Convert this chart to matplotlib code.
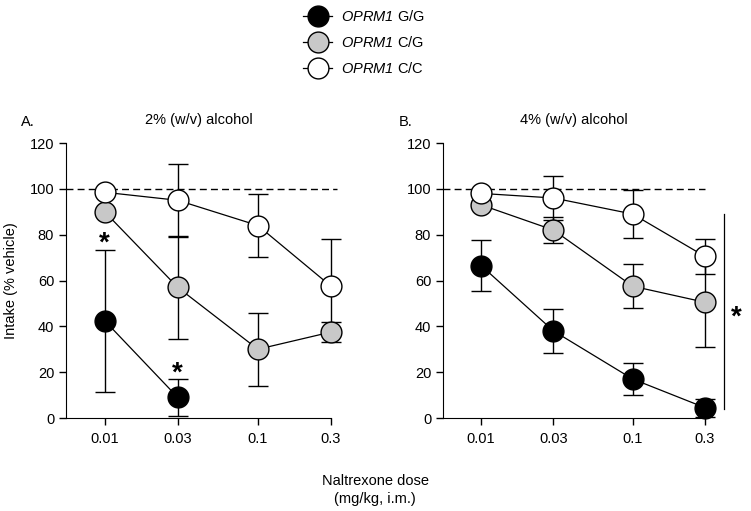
import matplotlib
matplotlib.use("Agg")
import matplotlib.pyplot as plt
from matplotlib.lines import Line2D
import numpy as np

plt.rcParams['font.family'] = ['Liberation Sans', 'DejaVu Sans']
plt.rcParams['mathtext.fontset'] = 'custom'
plt.rcParams['mathtext.rm'] = 'Liberation Sans:italic'
plt.rcParams['mathtext.it'] = 'Liberation Sans:italic'

doses = [0.01, 0.03, 0.1, 0.3]
dose_labels = ["0.01", "0.03", "0.1", "0.3"]
genotypes = ["G/G", "C/G", "C/C"]
colors = ["black", "#c8c8c8", "white"]

# Panel A: 2% alcohol
a_gg = [42.5, 9.0]
a_gg_err = [31.0, 8.0]
a_cg = [90.0, 57.0, 30.0, 37.5]
a_cg_err = [0.0, 22.5, 16.0, 4.5]
a_cc = [98.5, 95.0, 84.0, 57.5]
a_cc_err = [0.0, 15.8, 13.8, 20.5]

# Panel B: 4% alcohol
b_gg = [66.5, 38.0, 17.0, 4.5]
b_gg_err = [11.0, 9.5, 7.0, 4.0]
b_cg = [93.0, 82.0, 57.5, 50.5]
b_cg_err = [0.0, 5.5, 9.5, 19.5]
b_cc = [98.0, 96.0, 89.0, 70.5]
b_cc_err = [0.0, 9.5, 10.5, 7.5]

fig = plt.figure(figsize=(7.51, 5.11), dpi=100)
axA = fig.add_axes([66/751, 93/511, 265/751, 275/511])
axB = fig.add_axes([443/751, 93/511, 262/751, 275/511])

panels = [
    (axA, [(a_gg, a_gg_err), (a_cg, a_cg_err), (a_cc, a_cc_err)], "2% (w/v) alcohol", "A.", 0.33),
    (axB, [(b_gg, b_gg_err), (b_cg, b_cg_err), (b_cc, b_cc_err)], "4% (w/v) alcohol", "B.", 0.30),
]

for ax, series, title, letter, dash_end in panels:
    ax.set_xscale('log')
    ax.set_xlim(0.0056, 0.3)
    ax.set_ylim(0, 120)
    ax.plot([0.0056, dash_end], [100, 100], ls=(0, (5, 3)), color='black', lw=1, zorder=1, clip_on=False)
    for (vals, errs) in series:
        x = doses[:len(vals)]
        ax.errorbar(x, vals, yerr=errs, fmt='none', ecolor='black', elinewidth=1,
                    capsize=7, capthick=1, zorder=2, clip_on=False)
    for (vals, errs), c in zip(series, colors):
        x = doses[:len(vals)]
        ax.plot(x, vals, '-', color='black', lw=0.9, marker='o', markersize=15,
                markerfacecolor=c, markeredgecolor='black', markeredgewidth=1,
                zorder=3, clip_on=False)
    ax.spines['top'].set_visible(False)
    ax.spines['right'].set_visible(False)
    ax.set_xticks(doses)
    ax.set_xticklabels(dose_labels)
    ax.xaxis.set_minor_locator(matplotlib.ticker.NullLocator())
    ax.set_yticks([0, 20, 40, 60, 80, 100, 120])
    ax.tick_params(axis='both', labelsize=10.5, length=5, width=1, direction='out')
    ax.tick_params(axis='x', pad=5)
    ax.set_title(title, fontsize=10.5, pad=14)
    ax.text(-0.17, 1.05, letter, transform=ax.transAxes, fontsize=10.5, ha='left', va='bottom')

axA.set_ylabel("Intake (% vehicle)", fontsize=10.5, labelpad=8)

# significance marks
axA.text(0.01, 76.0, "*", fontsize=20, ha='center', va='center', fontweight='bold')
axA.text(0.03, 19.5, "*", fontsize=20, ha='center', va='center', fontweight='bold')
axB.plot([0.4, 0.4], [4, 89], color='black', lw=0.9, clip_on=False)
axB.text(0.48, 44, "*", fontsize=20, ha='center', va='center', fontweight='bold')

fig.text(375/751, 1 - 490/511, "Naltrexone dose\n(mg/kg, i.m.)", ha='center', va='center',
         fontsize=10.5, linespacing=1.4)

handles = [Line2D([0], [0], color='black', lw=0.9, marker='o', markersize=15,
                  markerfacecolor=c, markeredgecolor='black') for c in colors]
labels = [r"$\mathrm{OPRM1}$ " + g for g in genotypes]
fig.legend(handles, labels, loc='upper left', bbox_to_anchor=(290/751, 1.008), frameon=False,
           fontsize=10.5, handlelength=2.0, labelspacing=0.75, handletextpad=0.6)

fig.savefig("out.png", dpi=100)
